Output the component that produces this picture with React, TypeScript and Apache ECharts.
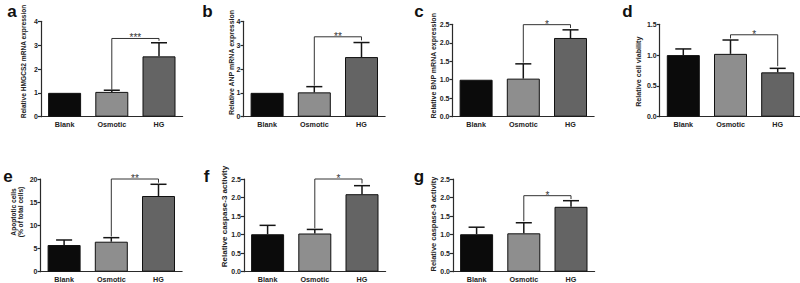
import React, { useEffect, useRef } from 'react';
import * as echarts from 'echarts';

const categories = ['Blank', 'Osmotic', 'HG'];
const panelLetters = ['a', 'b', 'c', 'd', 'e', 'f', 'g'];
const yTitles = [
  'Relative HMGCS2 mRNA expression',
  'Relative ANP mRNA expression',
  'Relative BNP mRNA expression',
  'Relative cell viability',
  'Apoptotic cells\n(% of total cells)',
  'Relative caspase-3 activity',
  'Relative caspase-9 activity',
];
const yMax = [4, 4, 2.5, 1.5, 20, 2.5, 2.5];
const yInterval = [1, 1, 0.5, 0.5, 5, 0.5, 0.5];
const yDecimals = [0, 0, 1, 1, 0, 1, 1];

const hmgcs2Mean = [1.0, 1.04, 2.53];
const hmgcs2Sd = [0, 0.07, 0.57];
const anpMean = [1.0, 1.02, 2.5];
const anpSd = [0, 0.24, 0.61];
const bnpMean = [1.0, 1.03, 2.13];
const bnpSd = [0, 0.4, 0.22];
const viabilityMean = [1.0, 1.02, 0.72];
const viabilitySd = [0.1, 0.225, 0.065];
const apoptosisMean = [5.76, 6.47, 16.33];
const apoptosisSd = [1.08, 0.87, 2.53];
const caspase3Mean = [1.01, 1.03, 2.09];
const caspase3Sd = [0.24, 0.11, 0.23];
const caspase9Mean = [1.01, 1.035, 1.75];
const caspase9Sd = [0.19, 0.285, 0.165];

const bracketLevel = [3.28, 3.35, 2.49, 1.33, 20.0, 2.5, 2.05];
const bracketLeftEnd = [1.13, 1.3, 1.46, 1.27, 7.6, 1.17, 1.36];
const bracketRightEnd = [3.18, 3.2, 2.4, 0.82, 19.2, 2.38, 1.96];
const bracketStars = ['***', '**', '*', '*', '**', '*', '*'];

const means = [hmgcs2Mean, anpMean, bnpMean, viabilityMean, apoptosisMean, caspase3Mean, caspase9Mean];
const sds = [hmgcs2Sd, anpSd, bnpSd, viabilitySd, apoptosisSd, caspase3Sd, caspase9Sd];

// layout (pixels)
const layout = [
  { left: 41, top: 21.3, bottom: 116.7, lx: 12, ly: 11, tx: 23.7, ty: 61.5, ts: 6.6 },
  { left: 243.5, top: 21.3, bottom: 116.7, lx: 207.5, ly: 11, tx: 231.7, ty: 62.5, ts: 7 },
  { left: 452.5, top: 24.3, bottom: 116.7, lx: 419, ly: 11, tx: 433, ty: 65.8, ts: 7 },
  { left: 659.7, top: 24.3, bottom: 116.7, lx: 627.5, ly: 11, tx: 638.3, ty: 71.7, ts: 7.2 },
  { left: 40.5, top: 179, bottom: 271.7, lx: 8, ly: 176, tx: 16.5, ty: 212, ts: 6.6 },
  { left: 244, top: 179, bottom: 271.7, lx: 206.7, ly: 176, tx: 224, ty: 216.5, ts: 8 },
  { left: 453, top: 179, bottom: 271.7, lx: 419, ly: 176, tx: 433, ty: 224, ts: 7.5 },
];
const GRID_W = 141.6;
const FONT = '"Liberation Sans", Arial, Helvetica, sans-serif';
const barColors = ['#0b0b0b', '#8e8e8e', '#646464'];
const AXIS = '#2a2a2a';

export default function App() {
  const ref = useRef<HTMLDivElement>(null);
  useEffect(() => {
    document.body.style.margin = '0';
    if (!ref.current) return;
    const chart = echarts.init(ref.current, undefined, { renderer: 'svg' });
    const grid: any[] = [];
    const xAxis: any[] = [];
    const yAxis: any[] = [];
    const series: any[] = [];
    const graphic: any[] = [];
    layout.forEach((L, p) => {
      grid.push({ left: L.left, top: L.top, width: GRID_W, height: L.bottom - L.top, outerBoundsMode: 'none', containLabel: false });
      xAxis.push({
        type: 'category', gridIndex: p, data: categories,
        axisLine: { lineStyle: { color: AXIS, width: 1.2 } },
        axisTick: { show: false },
        axisLabel: { fontSize: 7.2, fontWeight: 'bold', color: '#222', margin: 4, fontFamily: FONT },
      });
      yAxis.push({
        type: 'value', gridIndex: p, min: 0, max: yMax[p], interval: yInterval[p],
        splitLine: { show: false },
        axisLine: { show: true, lineStyle: { color: AXIS, width: 1.2 } },
        axisTick: { show: true, length: 3, lineStyle: { color: AXIS, width: 1.2 } },
        axisLabel: {
          fontSize: 7, fontWeight: 'bold', color: '#222', margin: 3, fontFamily: FONT,
          formatter: (v: number) => v.toFixed(yDecimals[p]),
        },
      });
      series.push({
        type: 'bar', xAxisIndex: p, yAxisIndex: p, barWidth: 33,
        data: means[p].map((v, i) => ({ value: v, itemStyle: { color: barColors[i], borderColor: '#111', borderWidth: 1 } })),
        z: 2,
      });
      series.push({
        type: 'custom', xAxisIndex: p, yAxisIndex: p, z: 3,
        data: means[p].map((v, i) => [i, v, sds[p][i]]),
        encode: { x: 0, y: 1 },
        renderItem: (params: any, api: any) => {
          const idx = api.value(0), m = api.value(1), s = api.value(2);
          if (!s) return null;
          const p0 = api.coord([idx, m]);
          const p1 = api.coord([idx, m + s]);
          const half = api.size([1, 0])[0] * 0.17;
          return {
            type: 'group', children: [
              { type: 'line', shape: { x1: p0[0], y1: p0[1], x2: p1[0], y2: p1[1] }, style: { stroke: '#151515', lineWidth: 1.5 } },
              { type: 'line', shape: { x1: p1[0] - half, y1: p1[1], x2: p1[0] + half, y2: p1[1] }, style: { stroke: '#151515', lineWidth: 1.5 } },
            ],
          };
        },
      });
      series.push({
        type: 'custom', xAxisIndex: p, yAxisIndex: p, z: 4,
        data: [[1, 2, bracketLevel[p], bracketLeftEnd[p], bracketRightEnd[p]]],
        encode: { x: [0, 1], y: [2, 3, 4] },
        renderItem: (params: any, api: any) => {
          const x1 = api.value(0), x2 = api.value(1), lv = api.value(2), le = api.value(3), re = api.value(4);
          const a = api.coord([x1, le]);
          const b = api.coord([x1, lv]);
          const c = api.coord([x2, lv]);
          const d = api.coord([x2, re]);
          return {
            type: 'group', children: [
              { type: 'polyline', shape: { points: [a, b, c, d] }, style: { stroke: '#333', lineWidth: 1, fill: 'none' } },
              {
                type: 'text', x: (b[0] + c[0]) / 2, y: b[1] - 0.5,
                style: { text: bracketStars[p], fill: '#333', fontSize: 10, fontFamily: FONT, align: 'center', verticalAlign: 'middle', textAlign: 'center', textVerticalAlign: 'middle' },
              },
            ],
          };
        },
      });
      graphic.push({
        type: 'text', x: L.lx, y: L.ly,
        style: { text: panelLetters[p], fill: '#111', fontSize: 17, fontWeight: 'bold', fontFamily: FONT, align: 'center', verticalAlign: 'middle', textAlign: 'center', textVerticalAlign: 'middle' },
      });
      graphic.push({
        type: 'text', x: L.tx, y: L.ty, rotation: Math.PI / 2,
        style: { text: yTitles[p], fill: '#222', fontSize: L.ts, lineHeight: L.ts + 0.4, fontWeight: 'bold', fontFamily: FONT, align: 'center', verticalAlign: 'middle', textAlign: 'center', textVerticalAlign: 'middle' },
      });
    });
    chart.setOption({ animation: false, backgroundColor: '#fff', grid, xAxis, yAxis, series, graphic });
    return () => chart.dispose();
  }, []);
  return <div ref={ref} style={{ width: 800, height: 283 }} />;
}
